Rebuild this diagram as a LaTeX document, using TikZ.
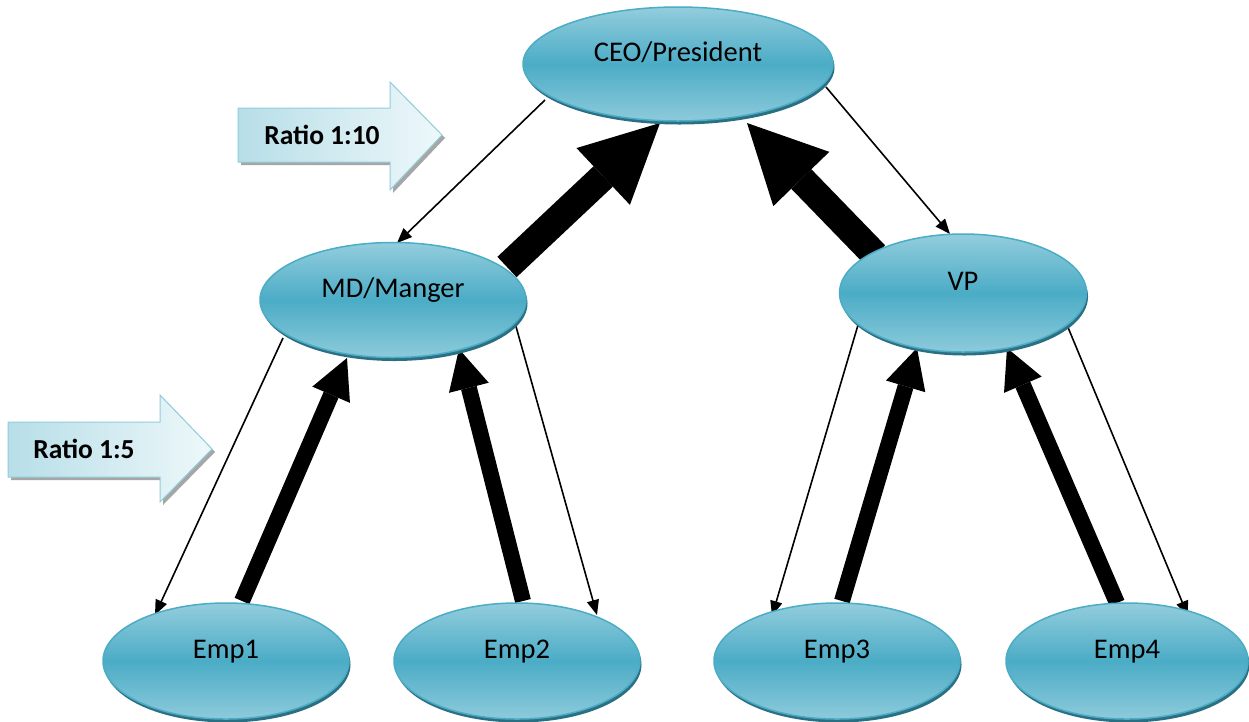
\documentclass[tikz,border=0pt]{standalone}
\usepackage{fontspec}
\setmainfont{Carlito}
\usetikzlibrary{shapes.geometric,arrows.meta,shadows,backgrounds}
\definecolor{elltop}{HTML}{93CDDD}
\definecolor{ellmid}{HTML}{4BACC6}
\definecolor{ellline}{HTML}{4BACC6}
\definecolor{ellshadow}{HTML}{2B6F82}
\definecolor{ratioleft}{HTML}{B7DEE8}
\definecolor{ratioright}{HTML}{EEF8FA}
\definecolor{ratioline}{HTML}{92CDDC}
\definecolor{ratioshadow}{HTML}{A6A6A6}
\begin{document}
\begin{tikzpicture}[x=1pt,y=-1pt,
  orgnode/.style={ellipse, draw=ellline, line width=1.5pt,
    top color=elltop, bottom color=elltop!92!ellmid, middle color=ellmid,
    inner sep=0pt, text height=20pt, text depth=26pt,
    font=\fontsize{28.5}{34}\selectfont, text=black,
    drop shadow={shadow xshift=1.5pt, shadow yshift=-3.5pt, fill=ellshadow, opacity=1}},
  thinarrow/.style={line width=1.6pt, -{Triangle[length=15pt,width=12pt]}},
  bigarrow/.style={line width=28pt, -{Triangle[length=78pt,width=78pt,line width=0pt]}},
  midarrow/.style={line width=16pt, -{Triangle[length=40pt,width=41pt,line width=0pt]}},
  ratioshape/.style={left color=ratioleft, right color=ratioright, draw=ratioline, line width=1pt,
    drop shadow={shadow xshift=3pt, shadow yshift=-3pt, fill=ratioshadow, opacity=1}},
  ratiotext/.style={font=\bfseries\fontsize{27.5}{32}\selectfont, text=black, inner sep=0pt}
]
\useasboundingbox (0,0) rectangle (1249,721);

% ratio block arrows
\draw[ratioshape] (238,108) -- (390,108) -- (390,82) -- (442,135) -- (390,190) -- (390,162) -- (238,162) -- cycle;
\node[ratiotext] (r10) at (322,135) {Ratio 1:10};
\draw[ratioshape] (8,422) -- (160,422) -- (160,395) -- (212,449) -- (160,502) -- (160,477) -- (8,477) -- cycle;
\node[ratiotext] (r5) at (84,449) {Ratio 1:5};

% nodes
\node[orgnode, minimum width=310pt, minimum height=114pt] (ceo) at (678,64) {CEO/President};
\node[orgnode, minimum width=266pt, minimum height=115pt] (md) at (393,300) {MD/Manger};
\node[orgnode, minimum width=247pt, minimum height=118pt] (vp) at (963,293) {VP};
\node[orgnode, minimum width=246pt, minimum height=116pt] (e1) at (226,661) {Emp1};
\node[orgnode, minimum width=246pt, minimum height=116pt] (e2) at (517,661) {Emp2};
\node[orgnode, minimum width=246pt, minimum height=116pt] (e3) at (837,661) {Emp3};
\node[orgnode, minimum width=242pt, minimum height=116pt] (e4) at (1127,661) {Emp4};

\begin{pgfonlayer}{background}
\fill[white] (0,0) rectangle (1249,721);
% thin downward arrows
\draw[thinarrow] ([shift={(-133,36)}]ceo.center) -- ([shift={(4,-57)}]md.center);
\draw[thinarrow] ([shift={(148,23)}]ceo.center) -- ([shift={(-13,-59)}]vp.center);
\draw[thinarrow] ([shift={(-110,38)}]md.center) -- ([shift={(-71,-46)}]e1.center);
\draw[thinarrow] ([shift={(122,23)}]md.center) -- ([shift={(80,-46)}]e2.center);
\draw[thinarrow] ([shift={(-105,32)}]vp.center) -- ([shift={(-65,-45)}]e3.center);
\draw[thinarrow] ([shift={(104,32)}]vp.center) -- ([shift={(61,-45)}]e4.center);
% thick upward arrows
\draw[bigarrow] ([shift={(114,-33)}]md.center) -- ([shift={(-18,59)}]ceo.center);
\draw[bigarrow] ([shift={(-88,-38)}]vp.center) -- ([shift={(69,59)}]ceo.center);
\draw[midarrow] ([shift={(16,-60)}]e1.center) -- ([shift={(-46,58)}]md.center);
\draw[midarrow] ([shift={(6,-60)}]e2.center) -- ([shift={(66,49)}]md.center);
\draw[midarrow] ([shift={(5,-60)}]e3.center) -- ([shift={(-46,55)}]vp.center);
\draw[midarrow] ([shift={(-10,-58)}]e4.center) -- ([shift={(44,55)}]vp.center);
\end{pgfonlayer}
\end{tikzpicture}
\end{document}
